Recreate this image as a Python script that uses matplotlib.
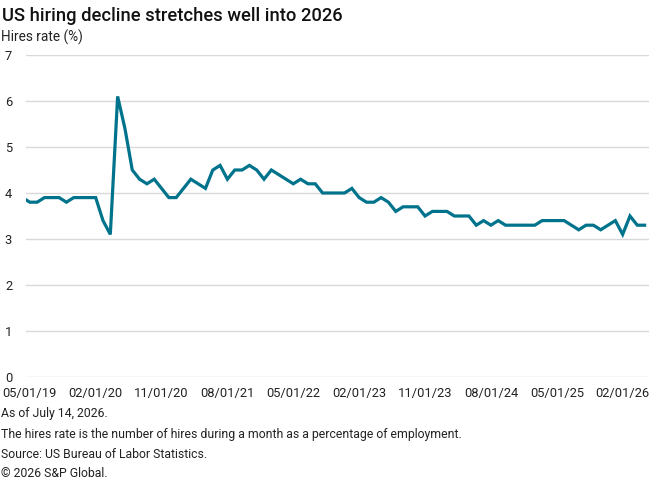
import matplotlib
matplotlib.use("Agg")
import matplotlib.pyplot as plt
from matplotlib import font_manager
import numpy as np
import pandas as pd

# Hires rate (%), monthly. The first value (04/2019) sits just outside the
# left edge of the plot and is only seen as the clipped start of the line.
months = pd.date_range("2019-04-01", periods=86, freq="MS")
hires_rate = [
    3.9,
    3.8, 3.8, 3.9, 3.9, 3.9, 3.8, 3.9, 3.9, 3.9, 3.9, 3.4, 3.1,
    6.1, 5.4, 4.5, 4.3, 4.2, 4.3, 4.1, 3.9, 3.9, 4.1, 4.3, 4.2,
    4.1, 4.5, 4.6, 4.3, 4.5, 4.5, 4.6, 4.5, 4.3, 4.5, 4.4, 4.3,
    4.2, 4.3, 4.2, 4.2, 4.0, 4.0, 4.0, 4.0, 4.1, 3.9, 3.8, 3.8,
    3.9, 3.8, 3.6, 3.7, 3.7, 3.7, 3.5, 3.6, 3.6, 3.6, 3.5, 3.5,
    3.5, 3.3, 3.4, 3.3, 3.4, 3.3, 3.3, 3.3, 3.3, 3.3, 3.4, 3.4,
    3.4, 3.4, 3.3, 3.2, 3.3, 3.3, 3.2, 3.3, 3.4, 3.1, 3.5, 3.3,
    3.3,
]
yticks = [0, 1, 2, 3, 4, 5, 6, 7]

title = "US hiring decline stretches well into 2026"
ylabel = "Hires rate (%)"
notes = [
    "As of July 14, 2026.",
    "The hires rate is the number of hires during a month as a percentage of employment.",
    "Source: US Bureau of Labor Statistics.",
    "\u00a9 2026 S&P Global.",
]


def pick_font(names):
    for n in names:
        try:
            font_manager.findfont(n, fallback_to_default=False)
            return n
        except Exception:
            pass
    return "DejaVu Sans"


font = pick_font(["Roboto", "Liberation Sans"])
plt.rcParams["font.family"] = [font, "DejaVu Sans"]

W, H = 662, 480
fig = plt.figure(figsize=(W / 100, H / 100), dpi=100)
ax = fig.add_axes([26 / W, 1 - 377 / H, (649 - 26) / W, (377 - 55) / H])

x = np.arange(len(months))
ax.plot(x, hires_rate, color="#00738c", lw=2.3, solid_joinstyle="miter")

ax.set_xlim(0.48, 85.6)
ax.set_ylim(0, 7)
ax.set_yticks(yticks)
tick_idx = x[1::9]
ax.set_xticks(tick_idx)
ax.set_xticklabels([months[i].strftime("%m/%d/%y") for i in tick_idx])

ax.grid(axis="y", color="#d9d9d9", lw=1)
ax.set_axisbelow(True)
for s in ax.spines.values():
    s.set_visible(False)
ax.tick_params(length=0, labelsize=9.3, colors="#222222")
ax.tick_params(axis="y", pad=10)
ax.tick_params(axis="x", pad=7)

fig.text(2 / W, 1 - 21 / H, title, fontsize=13.2, fontweight="medium",
         color="#111111", va="baseline")
fig.text(1 / W, 1 - 42 / H, ylabel, fontsize=9.8, color="#222222", va="baseline")
for yb, t in zip([417, 438, 458, 477], notes):
    fig.text(1 / W, 1 - yb / H, t, fontsize=8.8, color="#222222", va="baseline")

fig.savefig("out.png", dpi=100)
